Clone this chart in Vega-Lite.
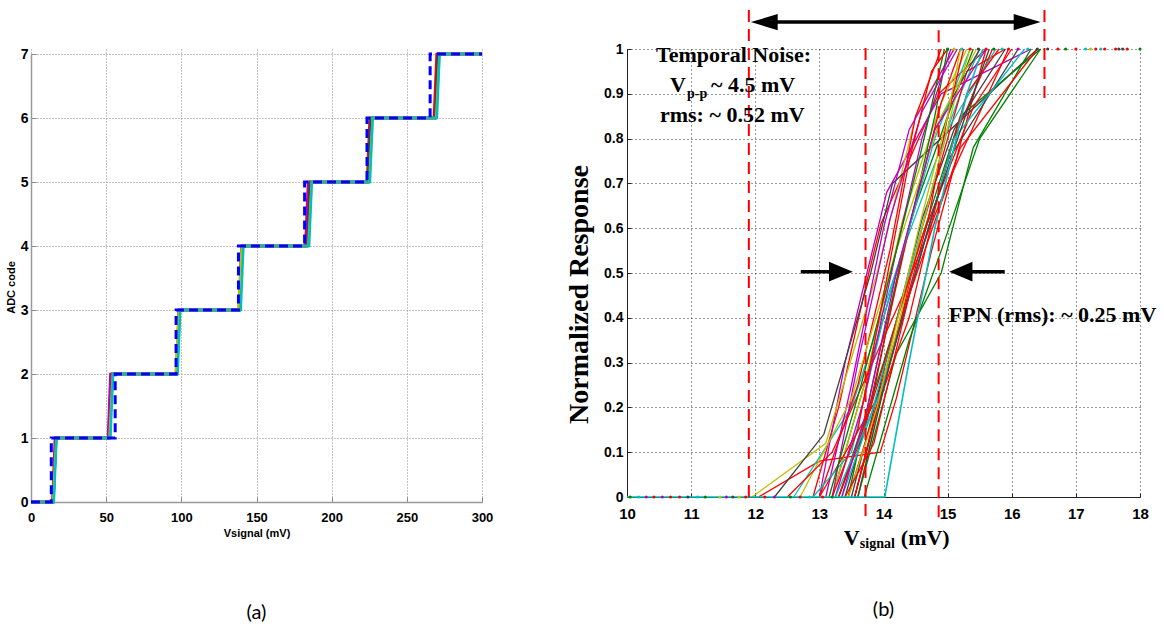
{
"$schema":"https://vega.github.io/schema/vega-lite/v6.json",
"background":"white",
"padding":{"left":5,"top":9,"right":5,"bottom":5},
"bounds":"flush",
"spacing":145,
"config":{"view":{"stroke":null},"axis":{"labelColor":"#000","titleColor":"#000"}},
"hconcat":[
{
"width":451,"height":453,
"title":{"text":"(a)","orient":"bottom","offset":65,"font":"Lato","fontSize":20,"fontWeight":"normal","color":"#000","anchor":"middle"},
"encoding":{
 "x":{"field":"v","type":"quantitative","scale":{"domain":[0,300],"nice":false},
  "axis":{"values":[0,50,100,150,200,250,300],"format":"d","title":"Vsignal (mV)","titleFont":"Liberation Sans","titleFontSize":11,"titleFontWeight":"bold","titleY":25,
   "labelFont":"Liberation Sans","labelFontSize":13,"labelFontWeight":"bold","labelPadding":14,"labelFlush":false,
   "tickSize":-5,"tickColor":"#888","domainColor":"#999","domainWidth":1.5,"grid":true,"gridColor":"#888","gridDash":[1,2],"gridWidth":1}},
 "y":{"field":"code","type":"quantitative","scale":{"domain":[0,7],"range":[453,5],"nice":false},
  "axis":{"values":[0,1,2,3,4,5,6,7],"format":"d","title":"ADC code","titleFont":"Liberation Sans","titleFontSize":11,"titleFontWeight":"bold","titleX":-15,"titleY":238,
   "labelFont":"Liberation Sans","labelFontSize":14,"labelFontWeight":"bold","labelPadding":8,
   "tickSize":-5,"tickColor":"#888","domainColor":"#999","domainWidth":1.5,"grid":true,"gridColor":"#888","gridDash":[1,2],"gridWidth":1}}
},
"layer":[
{"data":{"values":[
{"run":"r","i":1,"v":0,"code":0},{"run":"r","i":2,"v":14.2,"code":0},{"run":"r","i":3,"v":16.0,"code":1},{"run":"r","i":4,"v":51.5,"code":1},{"run":"r","i":5,"v":53.3,"code":2},{"run":"r","i":6,"v":96.5,"code":2},{"run":"r","i":7,"v":98.3,"code":3},{"run":"r","i":8,"v":138.2,"code":3},{"run":"r","i":9,"v":140.0,"code":4},{"run":"r","i":10,"v":182.5,"code":4},{"run":"r","i":11,"v":184.3,"code":5},{"run":"r","i":12,"v":223.5,"code":5},{"run":"r","i":13,"v":225.3,"code":6},{"run":"r","i":14,"v":268.0,"code":6},{"run":"r","i":15,"v":269.8,"code":7},{"run":"r","i":16,"v":300,"code":7},
{"run":"g","i":1,"v":0,"code":0},{"run":"g","i":2,"v":14.8,"code":0},{"run":"g","i":3,"v":16.8,"code":1},{"run":"g","i":4,"v":52.0,"code":1},{"run":"g","i":5,"v":54.0,"code":2},{"run":"g","i":6,"v":97.0,"code":2},{"run":"g","i":7,"v":99.0,"code":3},{"run":"g","i":8,"v":138.8,"code":3},{"run":"g","i":9,"v":140.8,"code":4},{"run":"g","i":10,"v":183.5,"code":4},{"run":"g","i":11,"v":185.5,"code":5},{"run":"g","i":12,"v":224.0,"code":5},{"run":"g","i":13,"v":226.0,"code":6},{"run":"g","i":14,"v":268.8,"code":6},{"run":"g","i":15,"v":270.8,"code":7},{"run":"g","i":16,"v":300,"code":7},
{"run":"m","i":1,"v":0,"code":0},{"run":"m","i":2,"v":14.5,"code":0},{"run":"m","i":3,"v":16.1,"code":1},{"run":"m","i":4,"v":51.2,"code":1},{"run":"m","i":5,"v":52.8,"code":2},{"run":"m","i":6,"v":96.8,"code":2},{"run":"m","i":7,"v":98.4,"code":3},{"run":"m","i":8,"v":138.5,"code":3},{"run":"m","i":9,"v":140.1,"code":4},{"run":"m","i":10,"v":183.0,"code":4},{"run":"m","i":11,"v":184.6,"code":5},{"run":"m","i":12,"v":224.5,"code":5},{"run":"m","i":13,"v":226.1,"code":6},{"run":"m","i":14,"v":269.0,"code":6},{"run":"m","i":15,"v":270.6,"code":7},{"run":"m","i":16,"v":300,"code":7},
{"run":"k","i":1,"v":0,"code":0},{"run":"k","i":2,"v":15.0,"code":0},{"run":"k","i":3,"v":16.5,"code":1},{"run":"k","i":4,"v":52.5,"code":1},{"run":"k","i":5,"v":54.0,"code":2},{"run":"k","i":6,"v":97.2,"code":2},{"run":"k","i":7,"v":98.7,"code":3},{"run":"k","i":8,"v":139.0,"code":3},{"run":"k","i":9,"v":140.5,"code":4},{"run":"k","i":10,"v":184.0,"code":4},{"run":"k","i":11,"v":185.5,"code":5},{"run":"k","i":12,"v":224.8,"code":5},{"run":"k","i":13,"v":226.3,"code":6},{"run":"k","i":14,"v":269.2,"code":6},{"run":"k","i":15,"v":270.7,"code":7},{"run":"k","i":16,"v":300,"code":7},
{"run":"y","i":1,"v":0,"code":0},{"run":"y","i":2,"v":14.6,"code":0},{"run":"y","i":3,"v":16.8,"code":1},{"run":"y","i":4,"v":52.2,"code":1},{"run":"y","i":5,"v":54.4,"code":2},{"run":"y","i":6,"v":96.2,"code":2},{"run":"y","i":7,"v":98.4,"code":3},{"run":"y","i":8,"v":138.0,"code":3},{"run":"y","i":9,"v":140.2,"code":4},{"run":"y","i":10,"v":184.5,"code":4},{"run":"y","i":11,"v":186.7,"code":5},{"run":"y","i":12,"v":225.0,"code":5},{"run":"y","i":13,"v":227.2,"code":6},{"run":"y","i":14,"v":269.5,"code":6},{"run":"y","i":15,"v":271.7,"code":7},{"run":"y","i":16,"v":300,"code":7},
{"run":"c","i":1,"v":0,"code":0},{"run":"c","i":2,"v":15.2,"code":0},{"run":"c","i":3,"v":17.0,"code":1},{"run":"c","i":4,"v":52.8,"code":1},{"run":"c","i":5,"v":54.6,"code":2},{"run":"c","i":6,"v":97.5,"code":2},{"run":"c","i":7,"v":99.3,"code":3},{"run":"c","i":8,"v":139.5,"code":3},{"run":"c","i":9,"v":141.3,"code":4},{"run":"c","i":10,"v":185.0,"code":4},{"run":"c","i":11,"v":186.8,"code":5},{"run":"c","i":12,"v":225.5,"code":5},{"run":"c","i":13,"v":227.3,"code":6},{"run":"c","i":14,"v":270.0,"code":6},{"run":"c","i":15,"v":271.8,"code":7},{"run":"c","i":16,"v":300,"code":7}
]},
"mark":{"type":"line","strokeWidth":2.5},
"encoding":{"color":{"field":"run","type":"nominal","scale":{"domain":["r","g","m","k","y","c"],"range":["#FF0000","#008000","#BF00BF","#404040","#BFBF00","#00BFBF"]},"legend":null},
 "detail":{"field":"run","type":"nominal"},"order":{"field":"i","type":"quantitative"}}},
{"data":{"values":[
{"i":1,"v":0,"code":0},{"i":2,"v":13.5,"code":0},{"i":3,"v":13.5,"code":1},{"i":4,"v":56,"code":1},{"i":5,"v":56,"code":2},{"i":6,"v":96.5,"code":2},{"i":7,"v":96.5,"code":3},{"i":8,"v":138,"code":3},{"i":9,"v":138,"code":4},{"i":10,"v":182,"code":4},{"i":11,"v":182,"code":5},{"i":12,"v":223.5,"code":5},{"i":13,"v":223.5,"code":6},{"i":14,"v":265.5,"code":6},{"i":15,"v":265.5,"code":7},{"i":16,"v":300,"code":7}
]},
"mark":{"type":"line","strokeWidth":3,"strokeDash":[9,5],"color":"#0000FF"},
"encoding":{"order":{"field":"i","type":"quantitative"}}}
]
},
{
"width":513,"height":448,
"title":{"text":"(b)","orient":"bottom","offset":49,"font":"Lato","fontSize":20,"fontWeight":"normal","color":"#000","anchor":"middle"},
"encoding":{
 "x":{"field":"v","type":"quantitative","scale":{"domain":[10,18],"nice":false,"zero":false},
  "axis":{"values":[10,11,12,13,14,15,16,17,18],"format":"d","title":null,
   "labelFont":"Liberation Sans","labelFontSize":15,"labelFontWeight":"bold","labelPadding":13,"labelFlush":false,
   "tickSize":-4,"tickColor":"#222","domainColor":"#222","domainWidth":1,"grid":true,"gridColor":"#333","gridDash":[1,3],"gridWidth":1}},
 "y":{"field":"r","type":"quantitative","scale":{"domain":[0,1],"nice":false},
  "axis":{"values":[0,0.1,0.2,0.3,0.4,0.5,0.6,0.7,0.8,0.9,1],"format":"~g","title":"Normalized Response","titleFont":"Liberation Serif","titleFontSize":28,"titleFontWeight":"bold","titleX":-34,"titleY":245,
   "labelFont":"Liberation Sans","labelFontSize":14,"labelFontWeight":"bold","labelPadding":8,
   "tickSize":-4,"tickColor":"#222","domainColor":"#222","domainWidth":1,"grid":true,"gridColor":"#333","gridDash":[1,3],"gridWidth":1}}
},
"layer":[
{"data":{"values":[
{"id":1,"c":"b","i":1,"v":12.05,"r":0},{"id":1,"c":"b","i":2,"v":13.0,"r":0.08},{"id":1,"c":"b","i":3,"v":13.95,"r":0.1},{"id":1,"c":"b","i":4,"v":14.2,"r":0.22},{"id":1,"c":"b","i":5,"v":14.75,"r":0.55},{"id":1,"c":"b","i":6,"v":15.6,"r":1},
{"id":2,"c":"g","i":1,"v":13.2,"r":0},{"id":2,"c":"g","i":2,"v":13.6,"r":0.2},{"id":2,"c":"g","i":3,"v":14.5,"r":0.65},{"id":2,"c":"g","i":4,"v":15.0,"r":0.85},{"id":2,"c":"g","i":5,"v":15.4,"r":1},
{"id":3,"c":"r","i":1,"v":12.9,"r":0},{"id":3,"c":"r","i":2,"v":13.3,"r":0.2},{"id":3,"c":"r","i":3,"v":13.77,"r":0.5},{"id":3,"c":"r","i":4,"v":13.96,"r":0.61},{"id":3,"c":"r","i":5,"v":14.86,"r":0.9},{"id":3,"c":"r","i":6,"v":15.6,"r":1},
{"id":4,"c":"c","i":1,"v":12.6,"r":0},{"id":4,"c":"c","i":2,"v":13.5,"r":0.2},{"id":4,"c":"c","i":3,"v":14.3,"r":0.55},{"id":4,"c":"c","i":4,"v":15.2,"r":0.9},{"id":4,"c":"c","i":5,"v":15.5,"r":1},
{"id":5,"c":"m","i":1,"v":13.0,"r":0},{"id":5,"c":"m","i":2,"v":13.4,"r":0.3},{"id":5,"c":"m","i":3,"v":14.05,"r":0.68},{"id":5,"c":"m","i":4,"v":14.9,"r":0.9},{"id":5,"c":"m","i":5,"v":16.3,"r":1},
{"id":6,"c":"y","i":1,"v":11.95,"r":0},{"id":6,"c":"y","i":2,"v":13.1,"r":0.12},{"id":6,"c":"y","i":3,"v":13.9,"r":0.5},{"id":6,"c":"y","i":4,"v":14.5,"r":0.85},{"id":6,"c":"y","i":5,"v":15.1,"r":1},
{"id":7,"c":"k","i":1,"v":12.3,"r":0},{"id":7,"c":"k","i":2,"v":13.07,"r":0.14},{"id":7,"c":"k","i":3,"v":13.8,"r":0.5},{"id":7,"c":"k","i":4,"v":14.14,"r":0.7},{"id":7,"c":"k","i":5,"v":16.4,"r":1},
{"id":8,"c":"b","i":1,"v":13.55,"r":0},{"id":8,"c":"b","i":2,"v":14.2,"r":0.35},{"id":8,"c":"b","i":3,"v":14.6,"r":0.6},{"id":8,"c":"b","i":4,"v":15.3,"r":0.95},{"id":8,"c":"b","i":5,"v":15.9,"r":1},
{"id":9,"c":"g","i":1,"v":13.3,"r":0},{"id":9,"c":"g","i":2,"v":14.0,"r":0.3},{"id":9,"c":"g","i":3,"v":14.6,"r":0.58},{"id":9,"c":"g","i":4,"v":15.2,"r":0.85},{"id":9,"c":"g","i":5,"v":16.45,"r":1},
{"id":10,"c":"r","i":1,"v":13.0,"r":0},{"id":10,"c":"r","i":2,"v":13.6,"r":0.25},{"id":10,"c":"r","i":3,"v":14.1,"r":0.55},{"id":10,"c":"r","i":4,"v":14.5,"r":0.85},{"id":10,"c":"r","i":5,"v":14.9,"r":1},
{"id":12,"c":"m","i":1,"v":13.1,"r":0},{"id":12,"c":"m","i":2,"v":13.5,"r":0.25},{"id":12,"c":"m","i":3,"v":14.0,"r":0.6},{"id":12,"c":"m","i":4,"v":14.4,"r":0.82},{"id":12,"c":"m","i":5,"v":15.1,"r":1},
{"id":13,"c":"y","i":1,"v":13.2,"r":0},{"id":13,"c":"y","i":2,"v":13.7,"r":0.25},{"id":13,"c":"y","i":3,"v":14.3,"r":0.62},{"id":13,"c":"y","i":4,"v":14.9,"r":0.88},{"id":13,"c":"y","i":5,"v":15.3,"r":1},
{"id":14,"c":"k","i":1,"v":13.4,"r":0},{"id":14,"c":"k","i":2,"v":13.8,"r":0.2},{"id":14,"c":"k","i":3,"v":14.3,"r":0.55},{"id":14,"c":"k","i":4,"v":14.8,"r":0.82},{"id":14,"c":"k","i":5,"v":15.5,"r":1},
{"id":15,"c":"b","i":1,"v":13.0,"r":0},{"id":15,"c":"b","i":2,"v":13.9,"r":0.22},{"id":15,"c":"b","i":3,"v":14.5,"r":0.5},{"id":15,"c":"b","i":4,"v":15.1,"r":0.8},{"id":15,"c":"b","i":5,"v":15.7,"r":1},
{"id":16,"c":"g","i":1,"v":13.45,"r":0},{"id":16,"c":"g","i":2,"v":13.9,"r":0.3},{"id":16,"c":"g","i":3,"v":14.4,"r":0.6},{"id":16,"c":"g","i":4,"v":14.8,"r":0.85},{"id":16,"c":"g","i":5,"v":15.0,"r":1},
{"id":17,"c":"r","i":1,"v":13.3,"r":0},{"id":17,"c":"r","i":2,"v":13.7,"r":0.15},{"id":17,"c":"r","i":3,"v":14.4,"r":0.6},{"id":17,"c":"r","i":4,"v":14.9,"r":0.88},{"id":17,"c":"r","i":5,"v":15.2,"r":1},
{"id":18,"c":"c","i":1,"v":12.9,"r":0},{"id":18,"c":"c","i":2,"v":13.5,"r":0.1},{"id":18,"c":"c","i":3,"v":14.0,"r":0.4},{"id":18,"c":"c","i":4,"v":14.8,"r":0.8},{"id":18,"c":"c","i":5,"v":15.35,"r":1},
{"id":19,"c":"m","i":1,"v":13.2,"r":0},{"id":19,"c":"m","i":2,"v":13.6,"r":0.3},{"id":19,"c":"m","i":3,"v":14.1,"r":0.62},{"id":19,"c":"m","i":4,"v":14.6,"r":0.86},{"id":19,"c":"m","i":5,"v":15.15,"r":1},
{"id":20,"c":"y","i":1,"v":12.7,"r":0},{"id":20,"c":"y","i":2,"v":13.5,"r":0.22},{"id":20,"c":"y","i":3,"v":14.2,"r":0.55},{"id":20,"c":"y","i":4,"v":14.9,"r":0.85},{"id":20,"c":"y","i":5,"v":15.45,"r":1},
{"id":21,"c":"k","i":1,"v":13.5,"r":0},{"id":21,"c":"k","i":2,"v":14.0,"r":0.28},{"id":21,"c":"k","i":3,"v":14.6,"r":0.62},{"id":21,"c":"k","i":4,"v":15.1,"r":0.82},{"id":21,"c":"k","i":5,"v":15.9,"r":1},
{"id":22,"c":"b","i":1,"v":12.5,"r":0},{"id":22,"c":"b","i":2,"v":13.2,"r":0.1},{"id":22,"c":"b","i":3,"v":14.3,"r":0.45},{"id":22,"c":"b","i":4,"v":15.0,"r":0.7},{"id":22,"c":"b","i":5,"v":15.95,"r":1},
{"id":23,"c":"g","i":1,"v":13.6,"r":0},{"id":23,"c":"g","i":2,"v":14.2,"r":0.32},{"id":23,"c":"g","i":3,"v":14.9,"r":0.5},{"id":23,"c":"g","i":4,"v":15.4,"r":0.78},{"id":23,"c":"g","i":5,"v":16.3,"r":1},
{"id":24,"c":"r","i":1,"v":13.45,"r":0},{"id":24,"c":"r","i":2,"v":14.1,"r":0.3},{"id":24,"c":"r","i":3,"v":14.7,"r":0.62},{"id":24,"c":"r","i":4,"v":15.0,"r":0.85},{"id":24,"c":"r","i":5,"v":15.25,"r":1},
{"id":25,"c":"c","i":1,"v":13.35,"r":0},{"id":25,"c":"c","i":2,"v":13.8,"r":0.18},{"id":25,"c":"c","i":3,"v":14.5,"r":0.55},{"id":25,"c":"c","i":4,"v":15.0,"r":0.82},{"id":25,"c":"c","i":5,"v":15.75,"r":1},
{"id":26,"c":"m","i":1,"v":13.25,"r":0},{"id":26,"c":"m","i":2,"v":13.7,"r":0.22},{"id":26,"c":"m","i":3,"v":14.2,"r":0.55},{"id":26,"c":"m","i":4,"v":14.6,"r":0.8},{"id":26,"c":"m","i":5,"v":15.05,"r":1},
{"id":27,"c":"y","i":1,"v":13.6,"r":0},{"id":27,"c":"y","i":2,"v":14.0,"r":0.25},{"id":27,"c":"y","i":3,"v":14.6,"r":0.6},{"id":27,"c":"y","i":4,"v":15.1,"r":0.88},{"id":27,"c":"y","i":5,"v":15.35,"r":1},
{"id":28,"c":"k","i":1,"v":13.55,"r":0},{"id":28,"c":"k","i":2,"v":14.0,"r":0.25},{"id":28,"c":"k","i":3,"v":14.5,"r":0.5},{"id":28,"c":"k","i":4,"v":15.0,"r":0.75},{"id":28,"c":"k","i":5,"v":16.1,"r":1},
{"id":29,"c":"b","i":1,"v":13.3,"r":0},{"id":29,"c":"b","i":2,"v":13.8,"r":0.2},{"id":29,"c":"b","i":3,"v":14.6,"r":0.58},{"id":29,"c":"b","i":4,"v":15.4,"r":0.87},{"id":29,"c":"b","i":5,"v":16.0,"r":1},
{"id":30,"c":"g","i":1,"v":13.15,"r":0},{"id":30,"c":"g","i":2,"v":13.65,"r":0.25},{"id":30,"c":"g","i":3,"v":14.2,"r":0.55},{"id":30,"c":"g","i":4,"v":14.6,"r":0.78},{"id":30,"c":"g","i":5,"v":14.95,"r":1},
{"id":31,"c":"r","i":1,"v":13.55,"r":0},{"id":31,"c":"r","i":2,"v":13.9,"r":0.2},{"id":31,"c":"r","i":3,"v":14.4,"r":0.4},{"id":31,"c":"r","i":4,"v":14.9,"r":0.7},{"id":31,"c":"r","i":5,"v":15.3,"r":0.9},{"id":31,"c":"r","i":6,"v":15.8,"r":1},
{"id":32,"c":"c","i":1,"v":13.25,"r":0},{"id":32,"c":"c","i":2,"v":14.0,"r":0.25},{"id":32,"c":"c","i":3,"v":14.7,"r":0.6},{"id":32,"c":"c","i":4,"v":15.1,"r":0.8},{"id":32,"c":"c","i":5,"v":16.2,"r":1},
{"id":33,"c":"m","i":1,"v":13.35,"r":0},{"id":33,"c":"m","i":2,"v":13.75,"r":0.2},{"id":33,"c":"m","i":3,"v":14.2,"r":0.5},{"id":33,"c":"m","i":4,"v":14.8,"r":0.82},{"id":33,"c":"m","i":5,"v":15.6,"r":1},
{"id":34,"c":"y","i":1,"v":13.45,"r":0},{"id":34,"c":"y","i":2,"v":13.9,"r":0.2},{"id":34,"c":"y","i":3,"v":14.55,"r":0.6},{"id":34,"c":"y","i":4,"v":15.0,"r":0.85},{"id":34,"c":"y","i":5,"v":15.2,"r":1},
{"id":35,"c":"k","i":1,"v":13.6,"r":0},{"id":35,"c":"k","i":2,"v":14.1,"r":0.3},{"id":35,"c":"k","i":3,"v":14.8,"r":0.65},{"id":35,"c":"k","i":4,"v":15.3,"r":0.86},{"id":35,"c":"k","i":5,"v":15.65,"r":1},
{"id":36,"c":"g","i":1,"v":13.7,"r":0},{"id":36,"c":"g","i":2,"v":14.4,"r":0.35},{"id":36,"c":"g","i":3,"v":14.9,"r":0.55},{"id":36,"c":"g","i":4,"v":15.5,"r":0.8},{"id":36,"c":"g","i":5,"v":16.45,"r":1},
{"id":37,"c":"b","i":1,"v":13.4,"r":0},{"id":37,"c":"b","i":2,"v":13.85,"r":0.12},{"id":37,"c":"b","i":3,"v":14.4,"r":0.45},{"id":37,"c":"b","i":4,"v":15.2,"r":0.78},{"id":37,"c":"b","i":5,"v":16.4,"r":1},
{"id":38,"c":"r","i":1,"v":13.2,"r":0},{"id":38,"c":"r","i":2,"v":13.6,"r":0.15},{"id":38,"c":"r","i":3,"v":14.0,"r":0.45},{"id":38,"c":"r","i":4,"v":14.4,"r":0.75},{"id":38,"c":"r","i":5,"v":14.75,"r":0.95},{"id":38,"c":"r","i":6,"v":15.0,"r":1}
]},
"mark":{"type":"line","strokeWidth":1.3},
"encoding":{"color":{"field":"c","type":"nominal","scale":{"domain":["b","g","r","c","m","y","k"],"range":["#0000FF","#008000","#FF0000","#00BFBF","#BF00BF","#BFBF00","#404040"]},"legend":null},
 "detail":{"field":"id","type":"nominal"},"order":{"field":"i","type":"quantitative"}}},
{"data":{"values":[
{"i":1,"v":10,"r":0},{"i":2,"v":14.02,"r":0},{"i":3,"v":14.37,"r":0.28},{"i":4,"v":14.8,"r":0.6},{"i":5,"v":15.3,"r":0.9},{"i":6,"v":15.55,"r":1}
]},
"mark":{"type":"line","strokeWidth":1.6,"color":"#00BFBF"},
"encoding":{"order":{"field":"i","type":"quantitative"}}},
{"data":{"values":[
{"c":"g","v":10.05,"r":0},{"c":"c","v":10.18,"r":0},{"c":"m","v":10.3,"r":0},{"c":"b","v":10.42,"r":0},{"c":"m","v":10.55,"r":0},{"c":"r","v":10.68,"r":0},{"c":"b","v":10.82,"r":0},{"c":"k","v":10.95,"r":0},{"c":"c","v":11.1,"r":0},{"c":"g","v":11.22,"r":0},{"c":"y","v":11.45,"r":0},{"c":"m","v":11.55,"r":0},{"c":"k","v":11.65,"r":0},{"c":"y","v":11.75,"r":0},{"c":"b","v":11.85,"r":0},{"c":"r","v":12.15,"r":0},{"c":"m","v":12.3,"r":0},{"c":"g","v":12.55,"r":0},{"c":"b","v":12.7,"r":0},{"c":"c","v":12.85,"r":0},{"c":"r","v":13.05,"r":0},{"c":"g","v":13.2,"r":0},
{"c":"g","v":15.0,"r":1},{"c":"y","v":15.1,"r":1},{"c":"c","v":15.22,"r":1},{"c":"r","v":15.35,"r":1},{"c":"k","v":15.48,"r":1},{"c":"r","v":15.6,"r":1},{"c":"g","v":15.72,"r":1},{"c":"c","v":15.85,"r":1},{"c":"b","v":15.95,"r":1},{"c":"m","v":16.1,"r":1},{"c":"c","v":16.25,"r":1},{"c":"k","v":16.4,"r":1},{"c":"k","v":16.56,"r":1},{"c":"r","v":16.72,"r":1},{"c":"g","v":16.84,"r":1},{"c":"b","v":17.0,"r":1},{"c":"c","v":17.15,"r":1},{"c":"y","v":17.23,"r":1},{"c":"r","v":17.31,"r":1},{"c":"c","v":17.39,"r":1},{"c":"b","v":17.45,"r":1},{"c":"r","v":17.62,"r":1},{"c":"k","v":17.67,"r":1},{"c":"k","v":17.73,"r":1},{"c":"r","v":17.8,"r":1},{"c":"g","v":18.0,"r":1}
]},
"mark":{"type":"point","filled":true,"size":10,"opacity":1},
"encoding":{"color":{"field":"c","type":"nominal","legend":null}}},
{"data":{"values":[
{"v":11.9,"r":1.087,"r2":0},{"v":13.72,"r":1.002,"r2":-0.045},{"v":14.86,"r":1.042,"r2":-0.045},{"v":16.51,"r":1.087,"r2":0.886}
]},
"mark":{"type":"rule","color":"#FF0000","strokeWidth":2,"strokeDash":[12,7]},
"encoding":{"y2":{"field":"r2"}}},
{"data":{"values":[
{"v":12.2,"v2":16.2,"r":1.06},{"v":12.71,"v2":13.2,"r":0.503},{"v":15.35,"v2":15.89,"r":0.503}
]},
"mark":{"type":"rule","color":"#000","strokeWidth":3.5},
"encoding":{"x2":{"field":"v2"}}},
{"data":{"values":[
{"h":"A","v":11.93,"r":1.06,"r2":1.06},{"h":"A","v":12.35,"r":1.078,"r2":1.042},
{"h":"B","v":16.03,"r":1.078,"r2":1.042},{"h":"B","v":16.45,"r":1.06,"r2":1.06},
{"h":"C","v":13.15,"r":0.525,"r2":0.481},{"h":"C","v":13.52,"r":0.503,"r2":0.503},
{"h":"D","v":15.025,"r":0.503,"r2":0.503},{"h":"D","v":15.387,"r":0.525,"r2":0.481}
]},
"mark":{"type":"area","color":"#000","opacity":1},
"encoding":{"y2":{"field":"r2"},"detail":{"field":"h","type":"nominal"}}},
{"data":{"values":[
{"t":"Temporal Noise:","v":10.452,"r":0.9717},{"t":"V","v":10.67,"r":0.9047},{"t":"~ 4.5 mV","v":11.309,"r":0.9047},{"t":"rms: ~ 0.52 mV","v":10.514,"r":0.8377},{"t":"FPN (rms): ~ 0.25 mV","v":15.018,"r":0.391},{"t":"V","v":13.382,"r":-0.1071},{"t":"(mV)","v":14.27,"r":-0.1071}
]},
"mark":{"type":"text","font":"Liberation Serif","fontSize":22,"fontWeight":"bold","align":"left","baseline":"alphabetic","color":"#000"},
"encoding":{"text":{"field":"t"}}},
{"data":{"values":[
{"t":"p-p","v":10.935,"r":0.8906},{"t":"signal","v":13.631,"r":-0.1138}
]},
"mark":{"type":"text","font":"Liberation Serif","fontSize":14,"fontWeight":"bold","align":"left","baseline":"alphabetic","color":"#000"},
"encoding":{"text":{"field":"t"}}}
]
}
]
}
